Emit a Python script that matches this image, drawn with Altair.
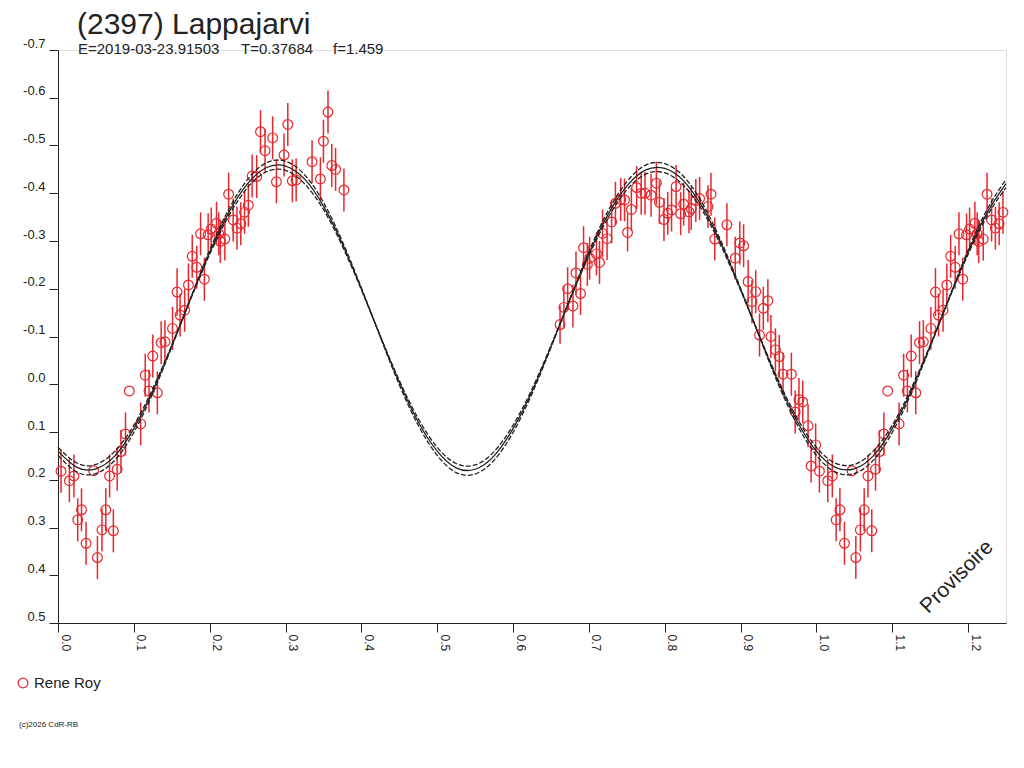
import pandas as pd
import altair as alt

# observations (phase, magnitude, half error bar) - Rene Roy
obs_phase = [0.004, 0.015, 0.021, 0.026, 0.031, 0.037, 0.047, 0.052, 0.058, 0.063,
             0.068, 0.073, 0.078, 0.083, 0.089, 0.094, 0.109, 0.115, 0.120, 0.125,
             0.131, 0.136, 0.141, 0.151, 0.157, 0.161, 0.167, 0.172, 0.177, 0.183,
             0.188, 0.193, 0.198, 0.202, 0.209, 0.212, 0.214, 0.220, 0.225, 0.231,
             0.236, 0.241, 0.246, 0.251, 0.256, 0.262, 0.267, 0.273, 0.283, 0.288,
             0.298, 0.303, 0.309, 0.314, 0.335, 0.346, 0.350, 0.356, 0.361, 0.366,
             0.377,
             0.662, 0.667, 0.672, 0.679, 0.683, 0.689, 0.693, 0.698, 0.701, 0.710,
             0.714, 0.718, 0.724, 0.730, 0.735, 0.742, 0.747, 0.751, 0.756, 0.763,
             0.769, 0.774, 0.782, 0.789, 0.793, 0.799, 0.804, 0.809, 0.815, 0.821,
             0.825, 0.832, 0.835, 0.841, 0.846, 0.857, 0.861, 0.866, 0.882, 0.893,
             0.899, 0.904, 0.910, 0.915, 0.920, 0.925, 0.930, 0.936, 0.940, 0.946,
             0.951, 0.956, 0.967, 0.972, 0.977, 0.982, 0.989, 0.993, 0.999]
obs_mag = [0.182, 0.202, 0.192, 0.284, 0.263, 0.333, 0.181, 0.363, 0.305, 0.263,
           0.192, 0.307, 0.178, 0.141, 0.104, 0.014, 0.083, -0.019, 0.014, -0.059,
           0.018, -0.087, -0.089, -0.117, -0.193, -0.145, -0.155, -0.208, -0.268, -0.245,
           -0.315, -0.220, -0.313, -0.325, -0.337, -0.315, -0.299, -0.304, -0.398, -0.344,
           -0.327, -0.336, -0.360, -0.375, -0.436, -0.435, -0.529, -0.489, -0.516, -0.424,
           -0.480, -0.544, -0.426, -0.428, -0.466, -0.430, -0.509, -0.570, -0.458, -0.450,
           -0.407,
           -0.125, -0.161, -0.200, -0.164, -0.233, -0.190, -0.286, -0.251, -0.264, -0.273,
           -0.255, -0.316, -0.305, -0.340, -0.379, -0.387, -0.386, -0.318, -0.366, -0.412,
           -0.400, -0.400, -0.396, -0.421, -0.381, -0.345, -0.358, -0.365, -0.414, -0.357,
           -0.377, -0.361, -0.368, -0.385, -0.389, -0.372, -0.398, -0.304, -0.334, -0.264,
           -0.296, -0.290, -0.215, -0.173, -0.194, -0.103, -0.159, -0.175, -0.100, -0.072,
           -0.058, -0.021, -0.021, 0.058, 0.032, 0.037, 0.087, 0.171, 0.127]
obs_err = [0.045, 0.045, 0.045, 0.045, 0.045, 0.045, 0.0, 0.045, 0.045, 0.045,
           0.045, 0.045, 0.045, 0.045, 0.045, 0.0, 0.045, 0.045, 0.045, 0.045,
           0.045, 0.045, 0.045, 0.045, 0.05, 0.045, 0.045, 0.045, 0.045, 0.045,
           0.045, 0.045, 0.045, 0.045, 0.045, 0.045, 0.045, 0.045, 0.045, 0.045,
           0.045, 0.045, 0.045, 0.045, 0.045, 0.045, 0.045, 0.045, 0.045, 0.045,
           0.045, 0.045, 0.045, 0.045, 0.045, 0.045, 0.045, 0.045, 0.045, 0.045,
           0.045,
           0.04, 0.045, 0.045, 0.045, 0.045, 0.045, 0.045, 0.045, 0.045, 0.045,
           0.045, 0.05, 0.045, 0.045, 0.045, 0.045, 0.045, 0.04, 0.045, 0.045,
           0.045, 0.045, 0.045, 0.045, 0.045, 0.045, 0.045, 0.045, 0.045, 0.045,
           0.045, 0.045, 0.045, 0.045, 0.045, 0.045, 0.045, 0.045, 0.045, 0.045,
           0.045, 0.045, 0.045, 0.045, 0.045, 0.045, 0.045, 0.045, 0.045, 0.045,
           0.045, 0.045, 0.045, 0.045, 0.045, 0.045, 0.045, 0.035, 0.045]

# fitted light curve read every 0.025 in phase, 0.0 .. 1.0
curve_phase = [round(i * 0.025, 3) for i in range(41)]
fit_mid = [0.140, 0.174, 0.177, 0.150, 0.093, 0.014, -0.080, -0.180, -0.276, -0.359,
           -0.420, -0.454, -0.457, -0.430, -0.373, -0.294, -0.200, -0.100, -0.004, 0.079,
           0.140, 0.175, 0.178, 0.150, 0.093, 0.015, -0.079, -0.178, -0.273, -0.355,
           -0.415, -0.449, -0.452, -0.426, -0.370, -0.292, -0.199, -0.100, -0.004, 0.079,
           0.140]
fit_hi = [0.149, 0.184, 0.187, 0.159, 0.101, 0.019, -0.078, -0.181, -0.281, -0.366,
          -0.429, -0.464, -0.467, -0.439, -0.381, -0.299, -0.202, -0.099, 0.001, 0.086,
          0.149, 0.185, 0.188, 0.159, 0.101, 0.020, -0.077, -0.179, -0.278, -0.362,
          -0.424, -0.459, -0.462, -0.435, -0.378, -0.297, -0.201, -0.099, 0.001, 0.086,
          0.149]
fit_lo = [0.132, 0.165, 0.168, 0.140, 0.086, 0.009, -0.082, -0.179, -0.272, -0.352,
          -0.412, -0.445, -0.448, -0.420, -0.366, -0.289, -0.198, -0.101, -0.008, 0.072,
          0.132, 0.166, 0.169, 0.141, 0.086, 0.010, -0.081, -0.177, -0.269, -0.348,
          -0.407, -0.440, -0.443, -0.416, -0.363, -0.287, -0.197, -0.101, -0.008, 0.072,
          0.132]

x_ticks = [round(i * 0.05, 2) for i in range(26)]
y_ticks = [round(-0.7 + i * 0.1, 1) for i in range(13)]

RED = '#e8262d'
INK = '#222222'
FONT = 'Liberation Sans'

# fold: phases 0..0.25 are repeated at 1.0..1.25
obs = pd.DataFrame({'phase': obs_phase, 'mag': obs_mag, 'err': obs_err})
rep = obs[obs['phase'] <= 0.25].copy()
rep['phase'] = rep['phase'] + 1.0
obs = pd.concat([obs, rep], ignore_index=True)
obs['lo'] = obs['mag'] - obs['err']
obs['hi'] = obs['mag'] + obs['err']
bars = obs[obs['err'] > 0]

fit = pd.DataFrame({'phase': curve_phase, 'mid': fit_mid, 'hi': fit_hi, 'lo': fit_lo})
fit_rep = fit.iloc[1:11].copy()
fit_rep['phase'] = fit_rep['phase'] + 1.0
fit = pd.concat([fit, fit_rep], ignore_index=True)

xscale = alt.Scale(domain=[0, 1.25], nice=False, zero=False)
yscale = alt.Scale(domain=[-0.7, 0.5], reverse=True, nice=False, zero=False)

xaxis = alt.Axis(values=x_ticks, title=None, grid=False, labelAngle=90,
                 labelBaseline='bottom', labelAlign='left', labelPadding=2,
                 labelExpr="round(datum.value*100) % 10 == 0 ? format(datum.value, '.1f') : ''",
                 tickSize=9, tickColor=INK, domainColor=INK, labelColor=INK,
                 labelFont=FONT, labelFontSize=12, labelOverlap=False, labelFlush=False)
yaxis = alt.Axis(values=y_ticks, title=None, grid=False, labelBaseline='bottom',
                 labelPadding=4, tickSize=9, tickColor=INK, domainColor=INK,
                 labelColor=INK, labelFont=FONT, labelFontSize=13,
                 labelExpr="(datum.value < -0.001 ? '-' : '') + format(abs(datum.value), '.1f')",
                 labelOverlap=False, labelFlush=False)

base_fit = alt.Chart(fit).encode(x=alt.X('phase:Q', scale=xscale, axis=xaxis))

mid_line = base_fit.mark_line(color=INK, strokeWidth=1.3, interpolate='natural').encode(
    y=alt.Y('mid:Q', scale=yscale, axis=yaxis))
hi_line = base_fit.mark_line(color=INK, strokeWidth=1.3, strokeDash=[5, 2],
                             interpolate='natural').encode(y=alt.Y('hi:Q', scale=yscale))
lo_line = base_fit.mark_line(color=INK, strokeWidth=1.3, strokeDash=[5, 2],
                             interpolate='natural').encode(y=alt.Y('lo:Q', scale=yscale))

err_rules = alt.Chart(bars).mark_rule(color=RED, strokeWidth=1.5).encode(
    x=alt.X('phase:Q', scale=xscale),
    y=alt.Y('lo:Q', scale=yscale),
    y2='hi:Q')

points = alt.Chart(obs).mark_point(shape='circle', color=RED, size=95,
                                   strokeWidth=1.2, filled=False, opacity=1).encode(
    x=alt.X('phase:Q', scale=xscale),
    y=alt.Y('mag:Q', scale=yscale))

# texts (positions in pixels relative to the plot area)
def label(text, x, y, size, **kw):
    return alt.Chart(pd.DataFrame({'t': [text]})).mark_text(
        font=FONT, fontSize=size, color=INK, align='left', **kw).encode(
        text='t:N', x=alt.value(x), y=alt.value(y))

title = label('(2397) Lappajarvi', 19, -16, 30, baseline='alphabetic')
sub_e = label('E=2019-03-23.91503', 20, 4, 15, baseline='alphabetic')
sub_t = label('T=0.37684', 183, 4, 15, baseline='alphabetic')
sub_f = label('f=1.459', 275, 4, 15, baseline='alphabetic')
legend_txt = label('Rene Roy', -24, 633, 15, baseline='middle')
copy_txt = label('(c)2026 CdR-RB', -39, 675, 8, baseline='middle')
prov = alt.Chart(pd.DataFrame({'t': ['Provisoire']})).mark_text(
    font=FONT, fontSize=21, color=INK, angle=315, align='center', baseline='middle').encode(
    text='t:N', x=alt.value(899), y=alt.value(527))
legend_pt = alt.Chart(pd.DataFrame({'t': ['Rene Roy']})).mark_point(
    shape='circle', color=RED, size=95, strokeWidth=1.2, filled=False, opacity=1).encode(
    x=alt.value(-35), y=alt.value(633))

chart = alt.layer(
    err_rules, points, hi_line, lo_line, mid_line,
    title, sub_e, sub_t, sub_f, legend_txt, copy_txt, prov, legend_pt
).properties(
    width=948, height=573,
    autosize=alt.AutoSizeParams(type='none'),
    padding={'left': 50, 'top': 42, 'right': 10, 'bottom': 130}
).configure_view(stroke=None).configure(background='white')

chart.save("out.html", embed_options={"renderer": "svg", "actions": False})
